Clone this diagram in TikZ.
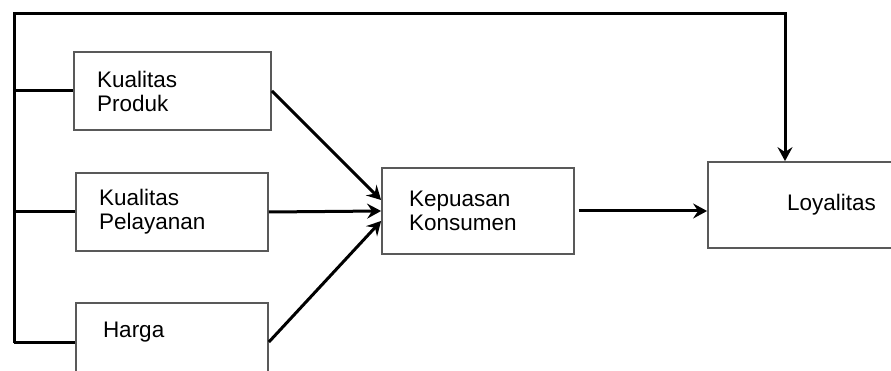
\documentclass[tikz,border=0pt]{standalone}
\usepackage{fontspec}
\setmainfont{Liberation Sans}
\usetikzlibrary{arrows.meta}
\begin{document}
\begin{tikzpicture}[
            x=1pt, y=-1pt,
            box/.style={draw=black!65, line width=1.8pt, align=left,
                font=\fontsize{22.5}{24}\selectfont, inner ysep=0pt},
            link/.style={line width=3pt},
            arrow/.style={link, -{Stealth[length=14pt,width=15pt,inset=5pt]}}
        ]
        \useasboundingbox (0,0) rectangle (891,371);
        \clip (0,0) rectangle (891,371);

        \node[box, minimum width=197pt, minimum height=78pt, inner xsep=23pt, text width=151pt]
            (produk) at (172.5,91) {Kualitas\\Produk};
        \node[box, minimum width=192pt, minimum height=78pt, inner xsep=23pt, text width=146pt]
            (pelayanan) at (172,212) {Kualitas\\Pelayanan};
        \node[box, minimum width=192pt, minimum height=78pt, inner xsep=27pt, text width=138pt]
            (harga) at (172,342) {Harga\\~};
        \node[box, minimum width=192pt, minimum height=86pt, inner xsep=27pt, text width=138pt]
            (kepuasan) at (478,211) {Kepuasan\\Konsumen};
        \node[box, minimum width=258pt, minimum height=86pt, inner xsep=79pt, text width=100pt]
            (loyalitas) at (837,205) {Loyalitas};

        \coordinate (tl) at (14,14);
        \coordinate (tr) at (785,14);
        \coordinate (bl) at (14,343);

        \draw[arrow] (bl) -- (tl) -- (tr) -- (tr |- loyalitas.north);
        \draw[link] (produk.west -| tl) -- (produk.west);
        \draw[link] (pelayanan.west -| tl) -- (pelayanan.west);
        \draw[link] (harga.west -| tl) -- (harga.west);

        \draw[arrow] (produk.east) -- ([yshift=11pt]kepuasan.west);
        \draw[arrow] (pelayanan.east) -- (kepuasan.west);
        \draw[arrow] (harga.east) -- ([yshift=-10pt]kepuasan.west);
        \draw[arrow, shorten <=4pt] (kepuasan.east) -- (kepuasan.east -| loyalitas.west);

    \end{tikzpicture}
\end{document}
